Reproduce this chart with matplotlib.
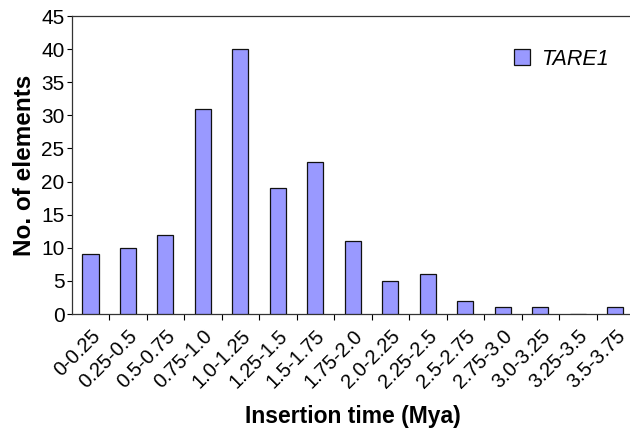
import numpy as np
import matplotlib
matplotlib.use("Agg")
from matplotlib import pyplot as plt

# insertion time bins (Mya) and number of TARE1 elements
bins = ["0-0.25", "0.25-0.5", "0.5-0.75", "0.75-1.0", "1.0-1.25", "1.25-1.5",
        "1.5-1.75", "1.75-2.0", "2.0-2.25", "2.25-2.5", "2.5-2.75", "2.75-3.0",
        "3.0-3.25", "3.25-3.5", "3.5-3.75"]
counts = [9, 10, 12, 31, 40, 19, 23, 11, 5, 6, 2, 1, 1, 0, 1]
yticks = [0, 5, 10, 15, 20, 25, 30, 35, 40, 45]

plt.rcParams['font.family'] = ['Liberation Sans', 'DejaVu Sans']

fig = plt.figure(figsize=(6.3, 4.29), dpi=100)
# axes box in pixels: x 71.7..634, y 16..314
ax = fig.add_axes([71.7 / 630, 1 - 314 / 429, (634 - 71.7) / 630, (314 - 16) / 429])

x = np.arange(len(bins))
ax.bar(x, counts, width=0.43, color='#9999ff', edgecolor='#111111',
       linewidth=0.9, label='TARE1', zorder=3)

ax.set_xlim(-0.5, len(bins) - 0.5)
ax.set_ylim(0, 45)
ax.set_yticks(yticks)
ax.tick_params(axis='y', labelsize=15, length=3.6, direction='out', width=0.8,
               pad=1.5)

ax.set_xticks(x)
ax.set_xticklabels(bins, rotation=45, ha='right', rotation_mode='anchor',
                   fontsize=14.5)
ax.tick_params(axis='x', length=0, pad=9)
# tick marks sit between the categories
ax.set_xticks(np.arange(len(bins)) + 0.5, minor=True)
ax.tick_params(axis='x', which='minor', length=4, width=0.8, direction='out')

ax.spines['right'].set_visible(False)
for s in ['top', 'left', 'bottom']:
    ax.spines[s].set_linewidth(0.9)
    ax.spines[s].set_color('#333333')

ax.set_ylabel('No. of elements', fontsize=17.5, fontweight='bold')
ax.yaxis.set_label_coords(-0.064, 0.5)
ax.set_xlabel('Insertion time (Mya)', fontsize=16.5, fontweight='bold')
ax.xaxis.set_label_coords(0.5, -0.305)

leg = ax.legend(loc='center left', bbox_to_anchor=(0.786, 0.855),
                frameon=False, prop={'style': 'italic', 'size': 15.5},
                handlelength=0.75, handleheight=0.75, handletextpad=0.5,
                borderaxespad=0, borderpad=0)

fig.savefig('out.png', dpi=100)
